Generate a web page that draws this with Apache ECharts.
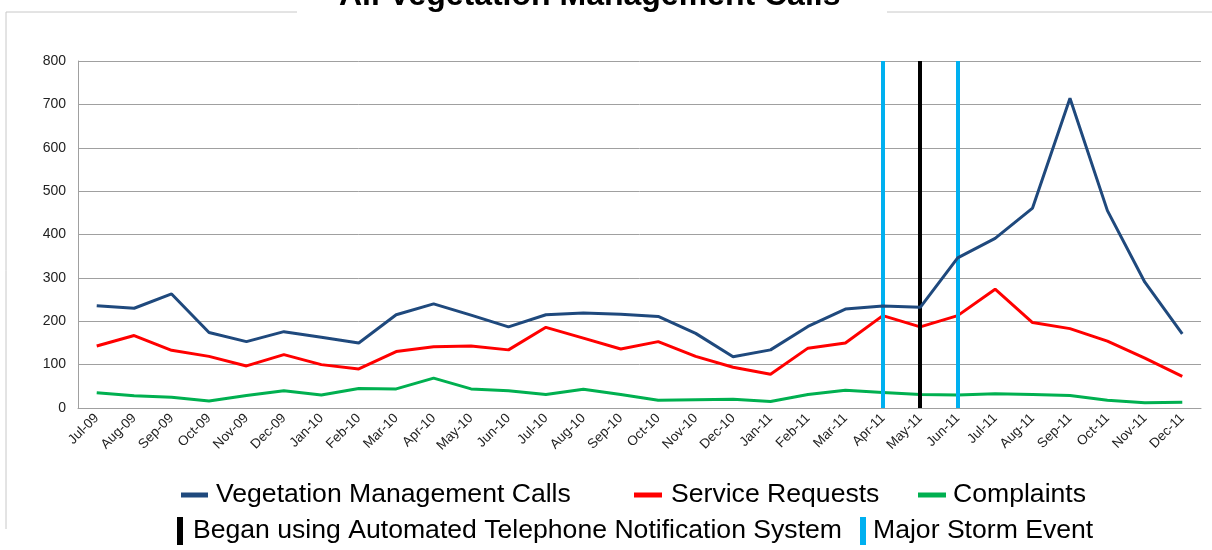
<!DOCTYPE html>
<html>
<head>
<meta charset="utf-8">
<script src="https://cdn.jsdelivr.net/npm/echarts@6/dist/echarts.min.js"></script>
<style>
html,body{margin:0;padding:0;background:#fff;}
#chart{width:1212px;height:550px;}
</style>
</head>
<body>
<div id="chart"></div>
<script>
const categories = ['Jul-09','Aug-09','Sep-09','Oct-09','Nov-09','Dec-09','Jan-10','Feb-10','Mar-10','Apr-10','May-10','Jun-10','Jul-10','Aug-10','Sep-10','Oct-10','Nov-10','Dec-10','Jan-11','Feb-11','Mar-11','Apr-11','May-11','Jun-11','Jul-11','Aug-11','Sep-11','Oct-11','Nov-11','Dec-11'];
const vegetationCalls = [236,230,263,174,153,176,163,150,215,240,214,187,215,219,216,211,172,118,134,188,228,235,232,346,391,461,714,455,290,171];
const serviceRequests = [143,167,133,119,97,123,100,90,130,141,143,134,186,161,136,153,119,94,78,138,150,213,187,213,274,197,183,154,115,73];
const complaints = [35,28,25,16,29,40,30,45,44,69,44,40,31,43,31,18,19,20,15,31,41,36,31,30,33,31,29,18,12,13];
const notificationMonths = ['May-11'];
const stormMonths = ['Apr-11','Jun-11'];
const yTicks = {min:0, max:800, interval:100};

const FONT = 'Liberation Sans, Arial, sans-serif';
const chart = echarts.init(document.getElementById('chart'));

function legendItem(name, left, top, w, h, gap){
  return {
    data:[name], left:left, top:top, padding:0, orient:'horizontal',
    icon:'rect', itemWidth:w, itemHeight:h, selectedMode:false,
    textStyle:{fontFamily:FONT, fontSize:26.6, color:'#000', lineHeight:30, padding:[0,0,0,gap]}
  };
}

const option = {
  animation:false,
  backgroundColor:'#fff',
  title:{
    text:'All Vegetation Management Calls',
    left:339, top:-20, padding:0,
    textStyle:{fontFamily:FONT, fontSize:32, fontWeight:'bold', color:'#000'}
  },
  graphic:[
    {type:'line', shape:{x1:6,y1:12,x2:297,y2:12}, style:{stroke:'#C8C8C8', lineWidth:1}},
    {type:'line', shape:{x1:887,y1:12,x2:1212,y2:12}, style:{stroke:'#C8C8C8', lineWidth:1}},
    {type:'line', shape:{x1:6,y1:12,x2:6,y2:529}, style:{stroke:'#C8C8C8', lineWidth:1}}
  ],
  legend:[
    legendItem('Vegetation Management Calls', 181, 480, 27, 5, 3),
    legendItem('Service Requests', 634, 480, 28, 5, 4),
    legendItem('Complaints', 918, 480, 28, 5, 2),
    legendItem('Began using Automated Telephone Notification System', 177, 516, 6, 28, 5),
    legendItem('Major Storm Event', 860, 516, 6, 28, 2)
  ],
  grid:{left:78, right:11, top:61, bottom:142, containLabel:false},
  xAxis:{
    type:'category', data:categories, boundaryGap:true,
    axisLine:{show:true, lineStyle:{color:'#A0A0A0', width:1}},
    axisTick:{show:false},
    axisLabel:{rotate:45, interval:0, margin:8, fontFamily:FONT, fontSize:13.5, color:'#222'}
  },
  yAxis:{
    type:'value', min:yTicks.min, max:yTicks.max, interval:yTicks.interval,
    axisLine:{show:true, lineStyle:{color:'#A0A0A0', width:1}},
    axisTick:{show:false},
    splitLine:{show:true, lineStyle:{color:'#A0A0A0', width:1}},
    axisLabel:{margin:12, fontFamily:FONT, fontSize:14, color:'#222'}
  },
  series:[
    {name:'Vegetation Management Calls', type:'line', data:vegetationCalls, showSymbol:false, symbol:'none',
     color:'#1F497D', lineStyle:{color:'#1F497D', width:3}, z:5},
    {name:'Service Requests', type:'line', data:serviceRequests, showSymbol:false, symbol:'none',
     color:'#FF0000', lineStyle:{color:'#FF0000', width:3}, z:4},
    {name:'Complaints', type:'line', data:complaints, showSymbol:false, symbol:'none',
     color:'#00B050', lineStyle:{color:'#00B050', width:3}, z:4},
    {name:'Began using Automated Telephone Notification System', type:'line', data:[], color:'#000',
     markLine:{silent:true, symbol:'none', label:{show:false}, lineStyle:{color:'#000', width:4, type:'solid'},
       data:notificationMonths.map(m=>({xAxis:m}))}, z:6},
    {name:'Major Storm Event', type:'line', data:[], color:'#00B0F0',
     markLine:{silent:true, symbol:'none', label:{show:false}, lineStyle:{color:'#00B0F0', width:4, type:'solid'},
       data:stormMonths.map(m=>({xAxis:m}))}, z:6}
  ]
};
chart.setOption(option);
</script>
</body>
</html>
